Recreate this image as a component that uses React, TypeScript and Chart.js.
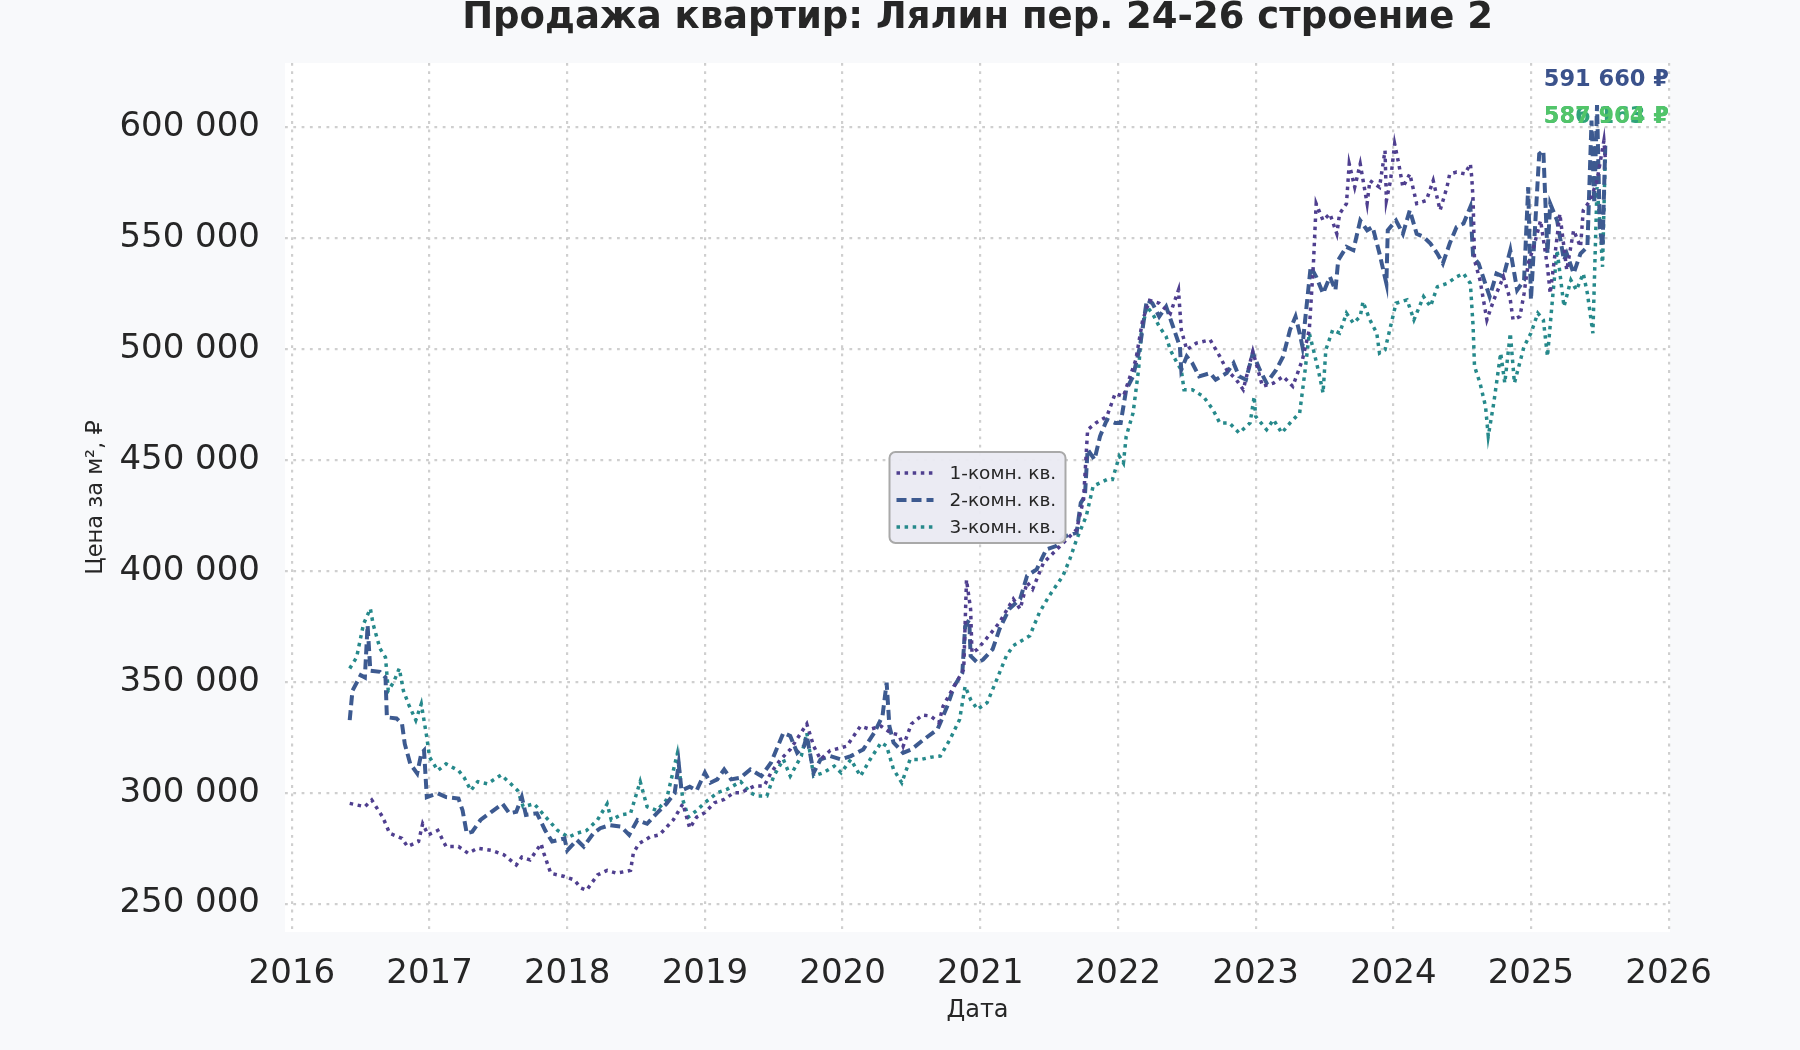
import { useEffect, useRef } from "react";
import Chart from "chart.js/auto";

const FONT = "'DejaVu Sans', 'Noto Sans', sans-serif";
const TEXT_COLOR = "#262626";
const GRID_COLOR = "#cfcfcf";

const TITLE = "Продажа квартир: Лялин пер. 24-26 строение 2";
const Y_TITLE = "Цена за м², ₽";
const X_TITLE = "Дата";

const SERIES_LABELS = ["1-комн. кв.", "2-комн. кв.", "3-комн. кв."];
const SERIES_COLORS = ["#4f3f8f", "#3d5a90", "#26898b"];
const SERIES_DASH = [
  [3.5, 4.6],
  [10, 5],
  [3.5, 4.6],
];
const SERIES_WIDTH = [3.5, 4, 3.5];

const Y_TICKS = [250000, 300000, 350000, 400000, 450000, 500000, 550000, 600000];
const X_TICKS = [2016, 2017, 2018, 2019, 2020, 2021, 2022, 2023, 2024, 2025, 2026];

// last-value labels (top right)
const END_LABELS = ["591 660 ₽", "586 163 ₽", "587 904 ₽"];
const END_LABEL_COLORS = ["#3b528b", "#2fa37a", "#52c569"];

// 1-комн. кв. — year / price, thousand ₽ per m²
const room1Years = [
  2016.42, 2016.53, 2016.58, 2016.66, 2016.71, 2016.8, 2016.84, 2016.92, 2016.95, 2016.99,
  2017.06, 2017.12, 2017.21, 2017.28, 2017.35, 2017.45, 2017.54, 2017.63, 2017.67, 2017.73,
  2017.81, 2017.83, 2017.88, 2017.98, 2018.05, 2018.1, 2018.14, 2018.22, 2018.29, 2018.36,
  2018.46, 2018.48, 2018.52, 2018.6, 2018.67, 2018.77, 2018.84, 2018.89, 2018.94, 2019.0,
  2019.07, 2019.14, 2019.21, 2019.26, 2019.36, 2019.43, 2019.48, 2019.55, 2019.62, 2019.74,
  2019.79, 2019.84, 2019.91, 2019.99, 2020.03, 2020.13, 2020.2, 2020.28, 2020.35, 2020.41,
  2020.44, 2020.5, 2020.58, 2020.64, 2020.7, 2020.73, 2020.81, 2020.88, 2020.9, 2020.93,
  2020.94, 2020.98, 2021.02, 2021.07, 2021.14, 2021.24, 2021.29, 2021.34, 2021.38, 2021.46,
  2021.58, 2021.7, 2021.75, 2021.78, 2021.84, 2021.92, 2021.98, 2022.04, 2022.08, 2022.13,
  2022.18, 2022.23, 2022.3, 2022.38, 2022.44, 2022.46, 2022.5, 2022.57, 2022.67, 2022.74,
  2022.79, 2022.86, 2022.91, 2022.98, 2023.05, 2023.13, 2023.2, 2023.27, 2023.34, 2023.39,
  2023.42, 2023.44, 2023.49, 2023.54, 2023.59, 2023.61, 2023.66, 2023.68, 2023.72, 2023.76,
  2023.81, 2023.83, 2023.9, 2023.94, 2023.95, 2023.98, 2024.01, 2024.04, 2024.07, 2024.12,
  2024.17, 2024.24, 2024.29, 2024.34, 2024.39, 2024.41, 2024.46, 2024.52, 2024.56, 2024.57,
  2024.58, 2024.59, 2024.63, 2024.68, 2024.73, 2024.8, 2024.85, 2024.87, 2024.92, 2024.95,
  2024.98, 2025.02, 2025.07, 2025.12, 2025.14, 2025.19, 2025.21, 2025.26, 2025.31, 2025.36,
  2025.38, 2025.43, 2025.48, 2025.53, 2025.54,
];
const room1Price = [
  295.2, 293.7, 296.7, 289.0, 281.7, 279.4, 275.7, 278.0, 286.0, 281.0,
  283.0, 275.7, 275.7, 272.7, 275.0, 274.0, 272.0, 267.4, 271.0, 269.7,
  277.0, 272.7, 263.7, 262.2, 260.7, 257.0, 256.0, 262.9, 265.0, 263.7,
  265.0, 272.7, 277.0, 280.0, 281.0, 287.7, 295.0, 284.0, 289.0, 291.0,
  295.5, 297.0, 300.0, 300.0, 303.0, 303.0, 309.0, 315.0, 319.5, 331.0,
  321.0, 315.0, 319.0, 320.3, 321.0, 330.0, 328.6, 330.0, 327.0, 326.0,
  321.0, 331.0, 335.0, 334.6, 331.6, 339.0, 348.0, 355.6, 396.0, 382.7,
  363.0, 364.7, 367.7, 371.4, 376.8, 387.3, 382.8, 394.8, 391.7, 403.7,
  411.2, 418.7, 432.2, 463.7, 466.7, 469.7, 480.0, 478.7, 486.2, 495.2,
  513.2, 522.0, 520.7, 516.0, 526.7, 508.7, 499.7, 502.7, 504.2, 496.7,
  490.7, 486.2, 481.7, 499.0, 483.2, 484.7, 487.7, 483.2, 495.2, 508.7,
  538.6, 565.6, 558.0, 561.0, 552.0, 561.0, 565.6, 583.5, 573.0, 583.5,
  565.6, 576.0, 573.0, 589.5, 567.0, 576.0, 592.5, 583.5, 573.0, 579.0,
  565.6, 567.0, 576.0, 562.6, 573.0, 579.0, 579.8, 579.0, 583.5, 577.5,
  567.0, 540.1, 531.1, 513.2, 522.2, 532.6, 522.2, 513.2, 514.7, 525.1,
  538.6, 546.1, 558.0, 537.1, 525.1, 550.6, 561.0, 535.6, 553.6, 546.1,
  562.6, 567.0, 576.0, 594.0, 586.2,
];

// 2-комн. кв.
const room2Years = [
  2016.42, 2016.44, 2016.5, 2016.53, 2016.55, 2016.57, 2016.64, 2016.68, 2016.69, 2016.76,
  2016.8, 2016.82, 2016.86, 2016.91, 2016.94, 2016.96, 2016.98, 2017.06, 2017.12, 2017.21,
  2017.24, 2017.27, 2017.31, 2017.37, 2017.45, 2017.53, 2017.58, 2017.63, 2017.67, 2017.7,
  2017.78, 2017.84, 2017.89, 2017.98, 2018.0, 2018.07, 2018.12, 2018.19, 2018.24, 2018.31,
  2018.39, 2018.45, 2018.51, 2018.58, 2018.65, 2018.72, 2018.78, 2018.81, 2018.83, 2018.89,
  2018.94, 2019.0, 2019.04, 2019.09, 2019.14, 2019.19, 2019.26, 2019.33, 2019.41, 2019.48,
  2019.53, 2019.57, 2019.62, 2019.67, 2019.72, 2019.74, 2019.79, 2019.84, 2019.91, 2019.99,
  2020.06, 2020.15, 2020.23, 2020.29, 2020.32, 2020.34, 2020.37, 2020.44, 2020.5, 2020.59,
  2020.69, 2020.76, 2020.81, 2020.87, 2020.89, 2020.92, 2020.93, 2020.98, 2021.02, 2021.09,
  2021.14, 2021.21, 2021.29, 2021.34, 2021.41, 2021.48, 2021.55, 2021.62, 2021.7, 2021.73,
  2021.76, 2021.78, 2021.83, 2021.87, 2021.92, 2021.98, 2022.02, 2022.06, 2022.11, 2022.16,
  2022.21, 2022.25, 2022.3, 2022.35, 2022.4, 2022.45, 2022.46, 2022.5, 2022.54, 2022.59,
  2022.67, 2022.71, 2022.79, 2022.84, 2022.88, 2022.93, 2022.98, 2023.03, 2023.08, 2023.15,
  2023.2, 2023.25, 2023.29, 2023.32, 2023.34, 2023.37, 2023.4, 2023.44, 2023.49, 2023.54,
  2023.58, 2023.6, 2023.66, 2023.71, 2023.76, 2023.81, 2023.85, 2023.9, 2023.95, 2023.96,
  2024.02, 2024.07, 2024.12, 2024.17, 2024.22, 2024.27, 2024.32, 2024.36, 2024.41, 2024.46,
  2024.51, 2024.56, 2024.58, 2024.62, 2024.66, 2024.7, 2024.75, 2024.8, 2024.85, 2024.9,
  2024.95, 2024.98, 2025.0, 2025.06, 2025.09, 2025.12, 2025.14, 2025.19, 2025.24, 2025.26,
  2025.31, 2025.36, 2025.41, 2025.44, 2025.46, 2025.48, 2025.5, 2025.52, 2025.54,
];
const room2Price = [
  332.7, 346.0, 353.0, 352.0, 375.5, 355.0, 354.5, 352.0, 334.0, 333.5,
  331.0, 322.0, 313.0, 308.7, 317.7, 319.0, 298.0, 299.7, 298.0, 297.4,
  292.0, 281.7, 282.4, 287.7, 291.4, 295.0, 290.7, 291.4, 298.0, 290.0,
  290.7, 283.0, 278.0, 279.4, 274.0, 278.7, 275.7, 281.7, 284.0, 285.4,
  284.7, 281.0, 287.7, 286.0, 290.7, 295.0, 299.7, 313.0, 301.0, 302.7,
  301.0, 309.0, 304.5, 306.0, 310.5, 306.0, 306.8, 310.5, 307.5, 313.5,
  321.0, 327.0, 325.6, 318.0, 321.0, 325.6, 309.0, 315.0, 316.5, 315.0,
  316.5, 319.5, 327.0, 334.6, 349.6, 330.0, 322.6, 318.0, 319.5, 324.0,
  328.6, 339.0, 348.0, 354.0, 375.0, 378.0, 361.7, 358.6, 360.0, 364.7,
  373.8, 382.8, 387.3, 397.8, 400.7, 409.7, 411.2, 415.7, 417.2, 430.7,
  433.7, 454.7, 450.2, 460.7, 468.2, 466.7, 466.7, 481.7, 487.7, 501.2,
  522.2, 520.7, 514.7, 519.2, 510.2, 501.2, 490.7, 496.7, 493.7, 487.7,
  489.2, 486.2, 489.2, 493.7, 487.7, 486.2, 498.2, 490.7, 484.7, 490.7,
  496.7, 508.7, 514.7, 507.2, 501.2, 519.2, 537.1, 532.6, 525.1, 532.6,
  526.6, 540.1, 546.1, 544.6, 558.0, 553.6, 555.1, 543.1, 529.6, 553.6,
  558.0, 552.0, 562.6, 552.0, 550.6, 547.6, 543.1, 538.6, 547.6, 555.1,
  556.6, 564.1, 541.6, 538.6, 531.1, 523.7, 534.1, 532.6, 544.6, 526.6,
  531.1, 573.0, 522.2, 588.0, 589.5, 543.1, 565.6, 558.0, 540.1, 543.1,
  534.1, 543.1, 546.1, 603.0, 565.6, 610.0, 555.0, 546.1, 591.7,
];

// 3-комн. кв.
const room3Years = [
  2016.42, 2016.47, 2016.52, 2016.57, 2016.59, 2016.64, 2016.68, 2016.7, 2016.74, 2016.78,
  2016.81, 2016.85, 2016.9, 2016.94, 2016.98, 2017.0, 2017.06, 2017.12, 2017.21, 2017.25,
  2017.3, 2017.35, 2017.42, 2017.52, 2017.59, 2017.64, 2017.68, 2017.76, 2017.83, 2017.93,
  2018.01, 2018.07, 2018.14, 2018.22, 2018.29, 2018.32, 2018.39, 2018.46, 2018.53, 2018.58,
  2018.65, 2018.72, 2018.8, 2018.84, 2018.88, 2018.94, 2019.0, 2019.09, 2019.16, 2019.26,
  2019.33, 2019.38, 2019.45, 2019.5, 2019.57, 2019.62, 2019.7, 2019.74, 2019.79, 2019.86,
  2019.94, 2019.99, 2020.06, 2020.13, 2020.2, 2020.28, 2020.32, 2020.37, 2020.43, 2020.49,
  2020.57, 2020.64, 2020.71, 2020.78, 2020.85, 2020.89, 2020.93, 2020.98, 2021.05, 2021.12,
  2021.19, 2021.24, 2021.36, 2021.43, 2021.5, 2021.6, 2021.65, 2021.7, 2021.77, 2021.82,
  2021.92, 2021.96, 2022.01, 2022.04, 2022.06, 2022.11, 2022.15, 2022.17, 2022.21, 2022.25,
  2022.3, 2022.35, 2022.38, 2022.43, 2022.46, 2022.48, 2022.54, 2022.62, 2022.69, 2022.74,
  2022.81, 2022.88, 2022.96, 2022.99, 2023.0, 2023.08, 2023.13, 2023.19, 2023.25, 2023.32,
  2023.36, 2023.39, 2023.42, 2023.46, 2023.49, 2023.51, 2023.56, 2023.61, 2023.66, 2023.71,
  2023.76, 2023.78, 2023.83, 2023.88, 2023.9, 2023.94, 2023.98, 2024.02, 2024.1, 2024.15,
  2024.22, 2024.27, 2024.32, 2024.39, 2024.46, 2024.51, 2024.56, 2024.58, 2024.59, 2024.63,
  2024.67, 2024.69, 2024.73, 2024.78, 2024.81, 2024.85, 2024.88, 2024.95, 2025.0, 2025.05,
  2025.09, 2025.12, 2025.16, 2025.19, 2025.24, 2025.29, 2025.33, 2025.38, 2025.41, 2025.45,
  2025.48, 2025.5, 2025.52, 2025.54,
];
const room3Price = [
  356.0, 361.0, 376.0, 383.0, 376.0, 365.0, 361.0, 346.0, 350.0, 356.0,
  346.0, 339.5, 332.7, 340.0, 325.0, 316.0, 310.0, 313.0, 310.0, 307.0,
  301.0, 305.0, 304.0, 308.0, 304.0, 301.0, 293.7, 295.0, 290.0, 283.0,
  280.0, 281.7, 283.0, 287.7, 295.0, 287.7, 290.0, 290.7, 305.0, 293.7,
  292.0, 296.7, 317.7, 296.7, 289.0, 292.0, 295.5, 300.0, 301.5, 305.0,
  300.0, 298.5, 298.5, 307.5, 315.0, 307.5, 316.5, 327.0, 307.5, 309.0,
  312.0, 309.0, 315.0, 307.5, 315.0, 322.6, 321.0, 310.5, 304.5, 315.0,
  315.0, 316.0, 316.5, 324.0, 333.0, 348.0, 342.0, 337.6, 340.6, 351.0,
  361.7, 366.3, 370.8, 381.3, 388.7, 397.7, 405.2, 414.2, 424.7, 438.2,
  441.2, 441.2, 451.7, 448.7, 460.7, 471.2, 490.7, 507.2, 519.2, 516.2,
  510.2, 505.7, 499.7, 493.7, 490.7, 481.7, 481.7, 478.7, 472.7, 466.7,
  466.7, 462.2, 466.7, 478.7, 469.7, 463.7, 468.2, 462.2, 466.7, 471.2,
  490.7, 507.2, 499.7, 489.2, 480.2, 499.7, 508.7, 507.2, 516.2, 511.7,
  514.7, 521.4, 513.2, 507.2, 498.2, 499.7, 510.2, 520.7, 522.2, 513.2,
  523.7, 519.2, 528.1, 529.6, 532.6, 534.1, 529.6, 510.2, 492.2, 484.7,
  474.2, 460.8, 475.7, 498.2, 484.7, 507.2, 484.7, 501.2, 507.2, 516.2,
  513.2, 496.7, 525.1, 544.6, 519.2, 531.1, 526.6, 534.1, 525.1, 507.2,
  573.0, 558.0, 537.1, 587.9,
];

const SERIES_YEARS = [room1Years, room2Years, room3Years];
const SERIES_PRICES = [room1Price, room2Price, room3Price];

function formatThousands(value: number): string {
  return String(Math.round(value)).replace(/\B(?=(\d{3})+(?!\d))/g, " ");
}

const decorPlugin = {
  id: "decor",
  beforeDraw(chart: Chart) {
    const { ctx, chartArea } = chart;
    ctx.save();
    ctx.fillStyle = "#ffffff";
    ctx.fillRect(chartArea.left, chartArea.top, chartArea.right - chartArea.left, chartArea.bottom - chartArea.top);
    ctx.restore();
  },
  afterDraw(chart: Chart) {
    const { ctx, chartArea } = chart;
    const cx = (chartArea.left + chartArea.right) / 2;
    const cy = (chartArea.top + chartArea.bottom) / 2;
    ctx.save();

    // title
    ctx.fillStyle = TEXT_COLOR;
    ctx.font = `bold 37px ${FONT}`;
    ctx.textAlign = "center";
    ctx.textBaseline = "middle";
    ctx.fillText(TITLE, cx, 18);

    // last-value labels
    ctx.font = `bold 22.5px ${FONT}`;
    ctx.textAlign = "right";
    END_LABELS.forEach((text, i) => {
      ctx.fillStyle = END_LABEL_COLORS[i];
      ctx.fillText(text, chartArea.right - 1, i === 0 ? 80 : 117);
    });

    // legend, centred in the plot
    const boxW = 176;
    const boxH = 91;
    const bx = cx - boxW / 2;
    const by = cy - boxH / 2;
    ctx.beginPath();
    ctx.roundRect(bx, by, boxW, boxH, 6);
    ctx.fillStyle = "rgba(234, 234, 242, 0.95)";
    ctx.fill();
    ctx.lineWidth = 2;
    ctx.strokeStyle = "#a9a9a9";
    ctx.stroke();

    ctx.font = `18.5px ${FONT}`;
    ctx.textAlign = "left";
    SERIES_LABELS.forEach((label, i) => {
      const y = by + 21 + i * 27;
      ctx.beginPath();
      ctx.setLineDash(SERIES_DASH[i]);
      ctx.lineWidth = SERIES_WIDTH[i];
      ctx.strokeStyle = SERIES_COLORS[i];
      ctx.moveTo(bx + 7, y);
      ctx.lineTo(bx + 44, y);
      ctx.stroke();
      ctx.setLineDash([]);
      ctx.fillStyle = TEXT_COLOR;
      ctx.fillText(label, bx + 60, y + 1);
    });

    ctx.restore();
  },
};

export default function App() {
  const canvasRef = useRef<HTMLCanvasElement>(null);

  useEffect(() => {
    if (!canvasRef.current) return;
    const chart = new Chart(canvasRef.current, {
      type: "line",
      data: {
        datasets: SERIES_LABELS.map((label, i) => ({
          label,
          data: SERIES_YEARS[i].map((x, j) => ({ x, y: SERIES_PRICES[i][j] * 1000 })),
          borderColor: SERIES_COLORS[i],
          backgroundColor: SERIES_COLORS[i],
          borderWidth: SERIES_WIDTH[i],
          borderDash: SERIES_DASH[i],
          borderCapStyle: "butt" as const,
          pointRadius: 0,
          tension: 0,
          fill: false,
        })),
      },
      options: {
        responsive: false,
        animation: false,
        devicePixelRatio: 1,
        layout: { padding: { top: 63, right: 130, bottom: 0, left: 0 } },
        plugins: {
          legend: { display: false },
          tooltip: { enabled: false },
          title: { display: false },
        },
        scales: {
          x: {
            type: "linear",
            min: 2015.95,
            max: 2026.01,
            afterFit: (scale) => {
              scale.height = 118;
            },
            afterBuildTicks: (scale) => {
              scale.ticks = X_TICKS.map((value) => ({ value }));
            },
            grid: { color: GRID_COLOR, lineWidth: 2.2, drawTicks: false },
            border: { display: false, dash: [2.8, 5.5] },
            ticks: {
              padding: 22,
              color: TEXT_COLOR,
              font: { family: FONT, size: 34 },
              maxRotation: 0,
              callback: (value) => String(value),
            },
            title: {
              display: true,
              text: X_TITLE,
              color: TEXT_COLOR,
              font: { family: FONT, size: 24 },
              padding: { top: 0, bottom: 25 },
            },
          },
          y: {
            type: "linear",
            min: 237200,
            max: 629000,
            afterFit: (scale) => {
              scale.width = 285;
            },
            afterBuildTicks: (scale) => {
              scale.ticks = Y_TICKS.map((value) => ({ value }));
            },
            grid: { color: GRID_COLOR, lineWidth: 2.2, drawTicks: false },
            border: { display: false, dash: [2.8, 5.5] },
            ticks: {
              padding: 25,
              color: TEXT_COLOR,
              font: { family: FONT, size: 34 },
              callback: (value) => formatThousands(Number(value)),
            },
            title: {
              display: true,
              text: Y_TITLE,
              color: TEXT_COLOR,
              font: { family: FONT, size: 22.5 },
              padding: { top: 83, bottom: 0 },
            },
          },
        },
      },
      plugins: [decorPlugin],
    });
    return () => chart.destroy();
  }, []);

  return (
    <div
      style={{
        position: "fixed",
        left: 0,
        top: 0,
        width: 1800,
        height: 1050,
        background: "#f8f9fb",
      }}
    >
      <canvas ref={canvasRef} width={1800} height={1050} style={{ width: 1800, height: 1050 }} />
    </div>
  );
}
